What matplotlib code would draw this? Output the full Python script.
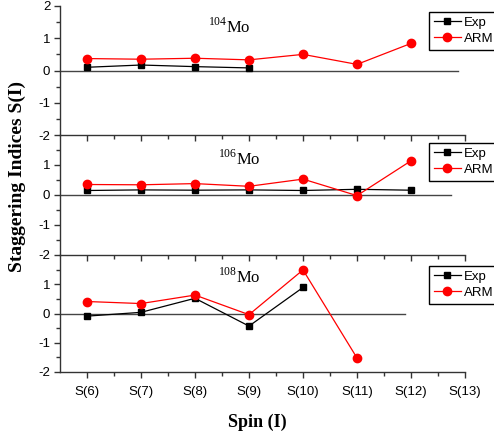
import matplotlib
matplotlib.use("Agg")
import matplotlib.pyplot as plt
import numpy as np

plt.rcParams['font.family'] = ['Liberation Sans', 'DejaVu Sans']
plt.rcParams['mathtext.fontset'] = 'custom'
plt.rcParams['mathtext.rm'] = 'Liberation Serif'

spins = [6, 7, 8, 9, 10, 11, 12, 13]
tick_labels = ["S(6)", "S(7)", "S(8)", "S(9)", "S(10)", "S(11)", "S(12)", "S(13)"]

nuclei = ["104", "106", "108"]

exp_x = [[6, 7, 8, 9], [6, 7, 8, 9, 10, 11, 12], [6, 7, 8, 9, 10]]
exp_y = [[0.10, 0.17, 0.12, 0.08],
         [0.15, 0.17, 0.16, 0.17, 0.15, 0.19, 0.16],
         [-0.09, 0.04, 0.52, -0.43, 0.89]]
arm_x = [[6, 7, 8, 9, 10, 11, 12], [6, 7, 8, 9, 10, 11, 12], [6, 7, 8, 9, 10, 11]]
arm_y = [[0.37, 0.35, 0.38, 0.33, 0.50, 0.19, 0.84],
         [0.35, 0.34, 0.38, 0.29, 0.53, -0.02, 1.14],
         [0.41, 0.34, 0.63, -0.04, 1.49, -1.52]]
zero_end = [12.87, 12.74, 11.89]

W, H = 494, 434
fig = plt.figure(figsize=(W / 100, H / 100), dpi=100)

left = 60 / W
width = (465 - 60) / W
panels_px = [(6, 135), (135, 255), (255, 372)]
legend_px = [(429, 12), (429, 143), (429, 266)]
label_px = [(208, 33), (218, 165), (218, 283)]

for i in range(3):
    top, bot = panels_px[i]
    ax = fig.add_axes([left, 1 - bot / H, width, (bot - top) / H])
    ax.set_xlim(5.5, 13)
    ax.set_ylim(-2, 2)
    ax.patch.set_alpha(0)
    for s in ['top', 'right']:
        ax.spines[s].set_visible(False)
    ax.spines['left'].set_linewidth(1.0)
    ax.spines['bottom'].set_linewidth(1.0)
    ax.spines['left'].set_color('#333333')
    ax.spines['bottom'].set_color('#333333')
    if i == 0:
        ax.set_yticks([-2, -1, 0, 1, 2])
        ax.set_yticklabels(["-2", "-1", "0", "1", "2"])
    else:
        ax.set_yticks([-2, -1, 0, 1])
        ax.set_yticklabels(["-2", "-1", "0", "1"])
    ax.set_yticks([-1.5, -0.5, 0.5, 1.5], minor=True)
    ax.set_xticks(spins)
    ax.set_xticks([6.5, 7.5, 8.5, 9.5, 10.5, 11.5, 12.5], minor=True)
    if i == 2:
        ax.set_xticklabels(tick_labels)
    else:
        ax.set_xticklabels([])
    ax.tick_params(axis='both', which='major', direction='out', length=4, width=1,
                   labelsize=9.5, color='#333333')
    ax.tick_params(axis='both', which='minor', direction='out', length=3, width=1,
                   color='#333333')
    ax.tick_params(axis='y', pad=3)
    ax.tick_params(axis='x', pad=6)

    ax.plot([5.5, zero_end[i]], [0, 0], color='#444444', lw=1.0, zorder=1)
    ax.plot(exp_x[i], exp_y[i], color='black', lw=0.9, marker='s', markersize=5,
            label='Exp', zorder=3)
    ax.plot(arm_x[i], arm_y[i], color='red', lw=0.9, marker='o', markersize=6,
            label='ARM', zorder=4)

    lx, ly = legend_px[i]
    leg = ax.legend(loc='upper left', bbox_to_anchor=(lx / W, 1 - ly / H),
                    bbox_transform=fig.transFigure, fontsize=9.5, frameon=True,
                    fancybox=False, edgecolor='black', framealpha=1,
                    handlelength=2.1, handletextpad=0.2, borderpad=0.35,
                    labelspacing=0.3, borderaxespad=0)
    leg.get_frame().set_linewidth(1.0)

    tx, ty = label_px[i]
    fig.text(tx / W, 1 - ty / H, r'$^{%s}$Mo' % nuclei[i], fontsize=12,
             family='Liberation Serif', ha='left', va='baseline')

fig.text(17 / W, 1 - 176 / H, 'Staggering Indices S(I)', rotation=90,
         fontsize=14, fontweight='bold', family='Liberation Serif',
         ha='center', va='center')
fig.text(257 / W, 1 - 422 / H, 'Spin (I)', fontsize=13, fontweight='bold',
         family='Liberation Serif', ha='center', va='center')

fig.savefig('out.png', dpi=100)
